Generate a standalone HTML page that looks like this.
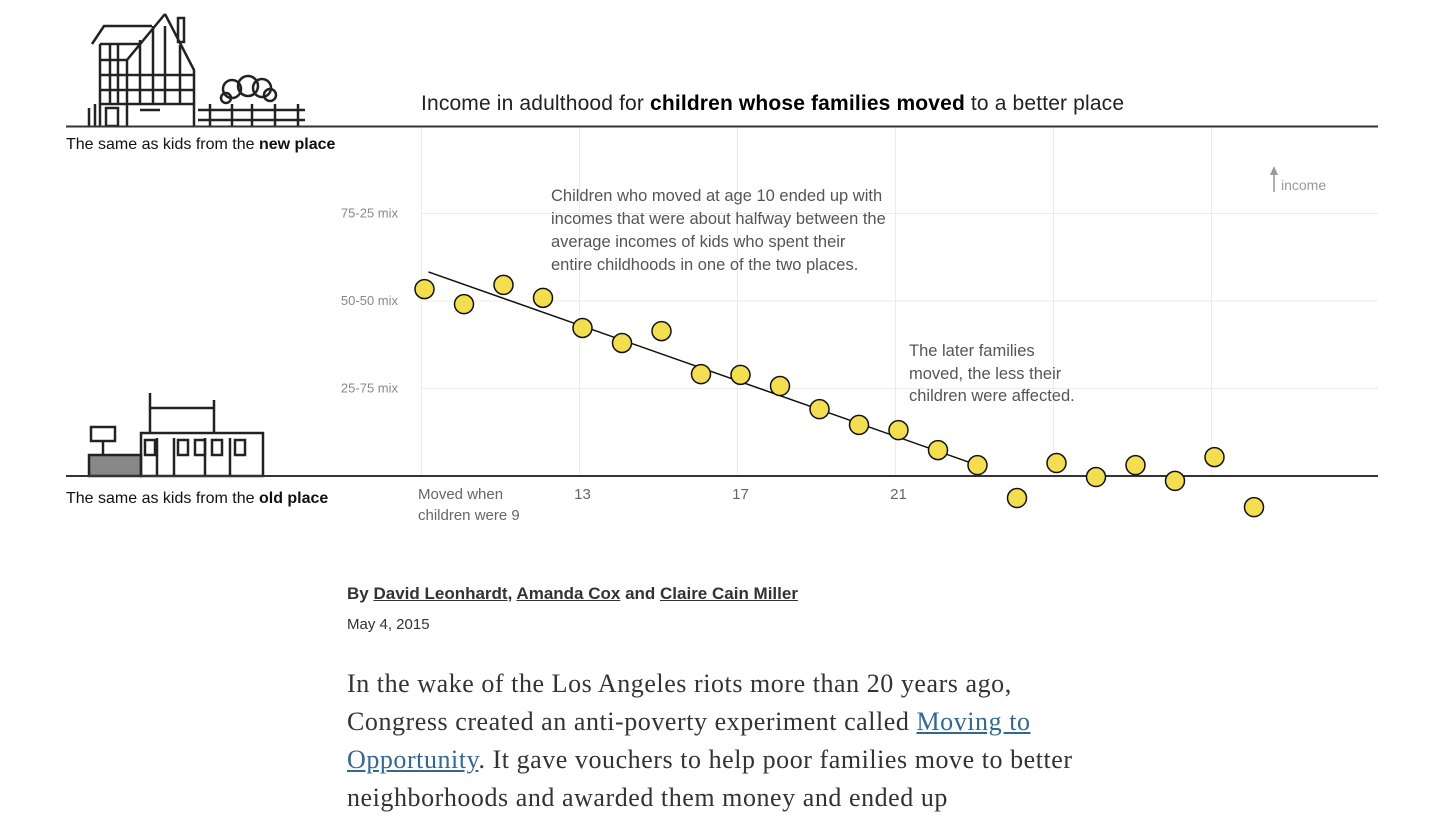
<!DOCTYPE html>
<html><head><meta charset="utf-8">
<style>
body{margin:0;background:#fff;width:1447px;height:790px;overflow:hidden;font-family:"Liberation Sans",sans-serif;}
svg text{font-family:"Liberation Sans",sans-serif;}
.by{position:absolute;left:347px;top:584px;font-size:17px;font-weight:bold;color:#333;}
.by a{color:#333;text-decoration:underline;}
.date{position:absolute;left:347px;top:616px;font-size:15px;color:#333;}
.body{position:absolute;left:347px;top:665px;width:900px;font-family:"Liberation Serif",serif;font-size:26px;letter-spacing:0.55px;line-height:38px;color:#333;white-space:nowrap;}
.body a{color:#326891;}
</style></head><body>
<svg id="chart" width="1447" height="560" style="position:absolute;left:0;top:0">
<g id="grid"></g>
<g fill="none" stroke="#222" stroke-width="2.5">
<path d="M92,44 L104,26 L152,26 M100,44 L100,126 M140,44 L100,44 M165,14 L127,60 L127,126 M165,14 L194,70 L194,126 M178,18 L178,42 L184,42 L184,18 Z"/>
<path d="M100,60 L127,60 M100,75 L194,75 M100,90 L194,90 M100,104 L194,104 M110,44 L110,104 M118,44 L118,104 M140,40 L140,104 M153,26 L153,104 M165,26 L165,104 M180,45 L180,104 M95,104 L95,126 M89,108 L89,126 M106,108 L106,126 L118,126 L118,108 Z M140,110 L160,110 M198,110 L305,110 M198,120 L305,120 M210,104 L210,126 M232,104 L232,126 M252,104 L252,126 M275,104 L275,126 M298,104 L298,126"/>
<circle cx="232" cy="89" r="9"/><circle cx="248" cy="86" r="10"/><circle cx="262" cy="88" r="9"/><circle cx="270" cy="95" r="6"/><circle cx="226" cy="98" r="5"/>
</g>
<g fill="none" stroke="#222" stroke-width="2.5">
<rect x="91" y="427" width="24" height="14"/><path d="M103,441 L103,455"/>
<rect x="89" y="455" width="52" height="21" fill="#888" stroke="#222"/>
<path d="M150,393 L150,433 M214,400 L214,433 M150,408 L214,408"/>
<rect x="141" y="433" width="122" height="43"/>
<path d="M157,438 L157,476 M174,438 L174,476 M205,438 L205,476 M230,438 L230,476"/>
<rect x="145" y="440" width="10" height="15"/><rect x="178" y="440" width="10" height="15"/><rect x="195" y="440" width="10" height="15"/><rect x="212" y="440" width="10" height="15"/><rect x="235" y="440" width="10" height="15"/>
</g>
<line x1="66" y1="126.5" x2="1378" y2="126.5" stroke="#333" stroke-width="2"/>
<line x1="66" y1="476" x2="1378" y2="476" stroke="#333" stroke-width="2"/>
<text x="421" y="110" font-size="21" fill="#222" textLength="703">Income in adulthood for <tspan font-weight="bold" fill="#000">children whose families moved</tspan> to a better place</text>
<text x="66" y="149" font-size="16" fill="#111">The same as kids from the <tspan font-weight="bold">new place</tspan></text>
<text x="66" y="503" font-size="16" fill="#111">The same as kids from the <tspan font-weight="bold">old place</tspan></text>
<g id="ylabels"></g>
<g id="xlabels"></g>
<text x="418" y="520" font-size="15" fill="#666">children were 9</text>
<g font-size="16.5" fill="#555">
<text x="551" y="201">Children who moved at age 10 ended up with</text>
<text x="551" y="224">incomes that were about halfway between the</text>
<text x="551" y="247">average incomes of kids who spent their</text>
<text x="551" y="270">entire childhoods in one of the two places.</text>
</g>
<g font-size="16.5" fill="#555">
<text x="909" y="356">The later families</text>
<text x="909" y="379">moved, the less their</text>
<text x="909" y="401">children were affected.</text>
</g>
<g>
<line x1="1274" y1="172" x2="1274" y2="192" stroke="#999" stroke-width="1.5"/>
<path d="M1270,175 L1274,166 L1278,175 Z" fill="#999"/>
<text x="1281" y="190" font-size="14" fill="#999">income</text>
</g>
<line id="trend" stroke="#111" stroke-width="1.5"/>
<g id="dots"></g>
</svg>
<div class="by">By <a href="#">David Leonhardt</a>, <a href="#">Amanda Cox</a> and <a href="#">Claire Cain Miller</a></div>
<div class="date">May 4, 2015</div>
<div class="body">In the wake of the Los Angeles riots more than 20 years ago,<br>Congress created an anti-poverty experiment called <a href="#">Moving to<br>Opportunity</a>. It gave vouchers to help poor families move to better<br>neighborhoods and awarded them money and ended up</div>
<script>
const ages=[9,10,11,12,13,14,15,16,17,18,19,20,21,22,23,24,25,26,27,28,29,30];
const values=[53.4,49.1,54.6,50.9,42.3,38,41.4,29.1,28.9,25.7,19.1,14.6,13.1,7.4,3.1,-6.3,3.7,-0.3,3.1,-1.4,5.4,-8.9];
const trendAges=[9.1,23];
const trendValues=[58.3,3.1];
const xTicks=[13,17,21];
const xGrid=[9,13,17,21,25,29];
const yTicks=[25,50,75];
const yTickLabels=["25-75 mix","50-50 mix","75-25 mix"];
const NS="http://www.w3.org/2000/svg";
const x=a=>424.5+(a-9)*39.5;
const y=v=>476-v*3.5;
function mk(tag,attrs,parent){const e=document.createElementNS(NS,tag);for(const k in attrs)e.setAttribute(k,attrs[k]);parent.appendChild(e);return e;}
const grid=document.getElementById('grid');
xGrid.forEach(a=>{const l=mk('line',{x1:x(a)-3,x2:x(a)-3,y1:127,y2:476,stroke:'#ebebeb','stroke-width':1},grid);

});
yTicks.forEach((v,i)=>{const l=mk('line',{x1:421,x2:1378,y1:y(v),y2:y(v),stroke:'#ebebeb','stroke-width':1},grid);


const t=mk('text',{x:398,y:y(v)+4,'font-size':13,fill:'#888','text-anchor':'end'},document.getElementById('ylabels'));
t.textContent=yTickLabels[i];

});
const xl=document.getElementById('xlabels');
let t0=mk('text',{x:418,y:499,'font-size':15,fill:'#666'},xl);t0.textContent='Moved when';


xTicks.forEach(a=>{const t=mk('text',{x:x(a),y:499,'font-size':15,fill:'#666','text-anchor':'middle'},xl);t.textContent=a;

});
const tr=document.getElementById('trend');
tr.setAttribute('x1',x(trendAges[0]));tr.setAttribute('y1',y(trendValues[0]));
tr.setAttribute('x2',x(trendAges[1]));tr.setAttribute('y2',y(trendValues[1]));
const dots=document.getElementById('dots');
ages.forEach((a,i)=>{const c=mk('circle',{cx:x(a),cy:y(values[i]),r:9.5,fill:'#f3de4f',stroke:'#111','stroke-width':1.5},dots);

});
</script>
</body></html>
